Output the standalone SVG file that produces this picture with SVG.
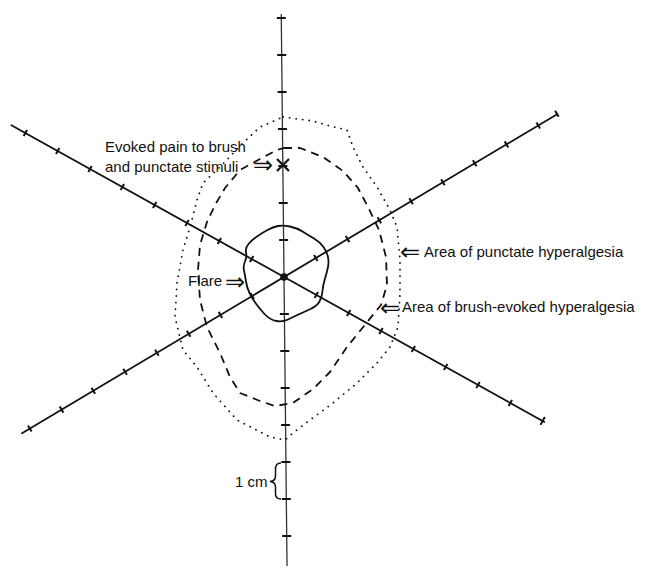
<svg xmlns="http://www.w3.org/2000/svg" width="649" height="569" viewBox="0 0 649 569">
<style>
.ax{fill:none;stroke:#111;stroke-width:1.8;stroke-linecap:round}
.tk{fill:none;stroke:#111;stroke-width:2}
.vax{fill:none;stroke:#333;stroke-width:1.3}
.flare{fill:none;stroke:#111;stroke-width:1.8;stroke-linejoin:round}
.brush{fill:none;stroke:#111;stroke-width:1.8;stroke-dasharray:8 6;stroke-linejoin:round}
.punct{fill:none;stroke:#111;stroke-width:1.8;stroke-dasharray:0.1 6.5;stroke-linecap:round;stroke-linejoin:round}
.t{font-family:"Liberation Sans",Arial,sans-serif;font-size:15px;fill:#111}
.ar{font-family:"DejaVu Sans",sans-serif;font-size:24px;fill:#111}
</style>
<rect width="649" height="569" fill="#fff"/>
<g id="connectors">
<g id="axis-vertical" transform="translate(284 277) rotate(89.4)">
<path class="vax" d="M-263 0H289"/>
<path class="tk" d="M-259 -4.5V4.5M-222 -4.5V4.5M-185 -4.5V4.5M-148 -4.5V4.5M-111 -4.5V4.5M-74 -4.5V4.5M-37 -4.5V4.5M37 -4.5V4.5M74 -4.5V4.5M111 -4.5V4.5M148 -4.5V4.5M185 -4.5V4.5M222 -4.5V4.5M259 -4.5V4.5"/>
</g>
<g id="axis-1" transform="translate(284 277) rotate(29.1)">
<path class="ax" d="M-312 0H298"/>
<path class="tk" d="M-296 -3.5V3.5M-259 -3.5V3.5M-222 -3.5V3.5M-185 -3.5V3.5M-148 -3.5V3.5M-111 -3.5V3.5M-74 -3.5V3.5M-37 -3.5V3.5M37 -3.5V3.5M74 -3.5V3.5M111 -3.5V3.5M148 -3.5V3.5M185 -3.5V3.5M222 -3.5V3.5M259 -3.5V3.5M296 -4.5V4.5"/>
</g>
<g id="axis-2" transform="translate(284 277) rotate(-30.8)">
<path class="ax" d="M-305 0H318"/>
<path class="tk" d="M-296 -3.5V3.5M-259 -3.5V3.5M-222 -3.5V3.5M-185 -3.5V3.5M-148 -3.5V3.5M-111 -3.5V3.5M-74 -3.5V3.5M-37 -3.5V3.5M37 -3.5V3.5M74 -3.5V3.5M111 -3.5V3.5M148 -3.5V3.5M185 -3.5V3.5M222 -3.5V3.5M259 -3.5V3.5M296 -3.5V3.5M318 -4V3"/>
</g>
<circle cx="284" cy="277" r="3.8" fill="#111"/>
</g>
<g id="contour-flare">
<path class="flare" d="M278 226Q283 225 290 226.5Q297 228 302.5 231.5Q308 235 314 238.5Q320 242 323.5 247Q327 252 328 257Q329 262 328 267Q327 272 325 278.5Q323 285 322.5 291Q322 297 319.5 301.5Q317 306 310.5 309Q304 312 298.5 314.5Q293 317 288 319.5Q283 322 276.5 321Q270 320 264.5 314Q259 308 255.5 303Q252 298 249.5 293Q247 288 246 281.5Q245 275 244 270.5Q243 266 245 261.5Q247 257 246 252.5Q245 248 248.5 244Q252 240 257 236.5Q262 233 267.5 230Q273 227 278 226Z"/>
</g>
<g id="contour-brush">
<path class="brush" d="M284 148L300 148L323 157L343 171L358 188L368 207L379 230L386 257L387 285L381 305L364 326L347 347L330 372L313 389L293 403L275 406L260 401L240 393L230 377L220 353L207 327L200 300L198 270L200 245L207 222L215 205L225 188L240 170L260 159L277 150Z"/>
</g>
<g id="contour-punctate">
<path class="punct" d="M283 117L290 118L313 121L330 126L347 130L353 147L363 167L377 187L390 210L397 227L400 260L400 293L398 327L390 347L377 363L357 383L333 403L310 420L293 433L285 440L270 437L237 420L213 393L197 367L183 350L175 317L177 283L183 250L190 227L197 200L203 183L220 167L243 143L260 127Z"/>
</g>
<g id="label-evoked">
<text class="t" x="105" y="152">Evoked pain to brush</text>
<text class="t" x="105" y="172">and punctate stimuli</text>
<text class="ar" x="253" y="173">⇒</text>
<path d="M277 159L289 171M289 159L277 171" stroke="#111" stroke-width="2.2" fill="none"/>
</g>
<g id="label-flare">
<text class="t" x="188" y="286">Flare</text>
<text class="ar" x="225" y="290">⇒</text>
</g>
<g id="label-punctate">
<text class="ar" x="400" y="260">⇐</text>
<text class="t" x="424" y="257">Area of punctate hyperalgesia</text>
</g>
<g id="label-brush">
<text class="ar" x="380" y="316">⇐</text>
<text class="t" x="402" y="312">Area of brush-evoked hyperalgesia</text>
</g>
<g id="scale-1cm">
<text class="t" x="235" y="487">1 cm</text>
<path d="M281 463Q275 463 275.5 470L275.5 476Q275.5 481 270 481.5Q275.5 482 275.5 487L275.5 493Q275 499 281 499" fill="none" stroke="#111" stroke-width="1.5"/>
</g>
</svg>
